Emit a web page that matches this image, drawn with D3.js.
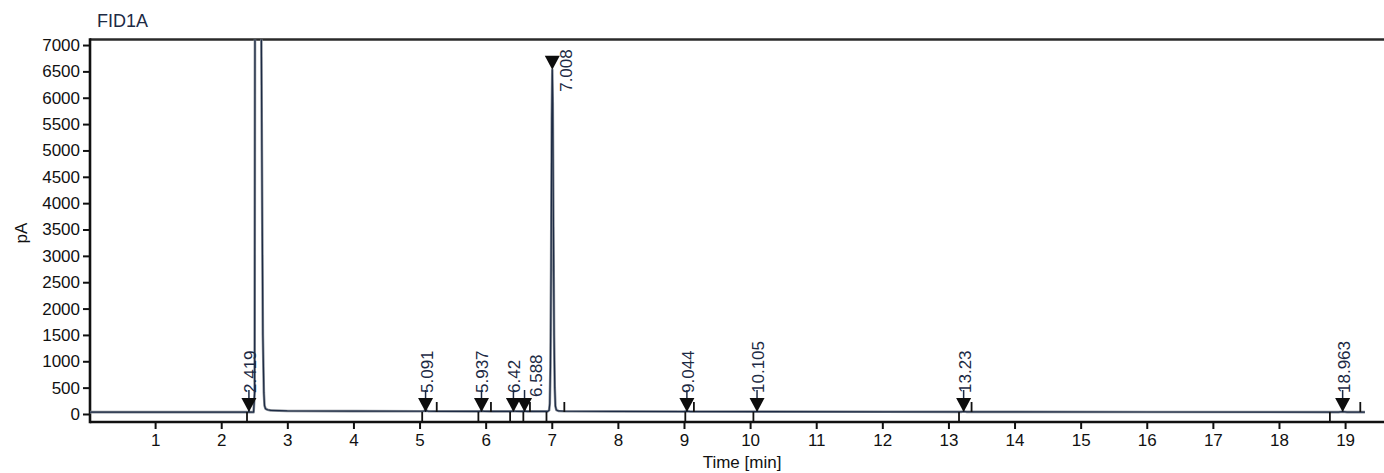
<!DOCTYPE html>
<html>
<head>
<meta charset="utf-8">
<script src="https://cdn.jsdelivr.net/npm/d3@7"></script>
<style>
  html, body { margin: 0; padding: 0; background: #fff; }
  svg { display: block; font-family: "Liberation Sans", Arial, sans-serif; }
</style>
</head>
<body>
<svg id="chart" width="1384" height="473"></svg>
<script>
// ---------------- data ----------------
const chartTitle = "FID1A";
const yLabel = "pA";
const xLabel = "Time [min]";
const xTicks = [1,2,3,4,5,6,7,8,9,10,11,12,13,14,15,16,17,18,19];
const yTicks = [0,500,1000,1500,2000,2500,3000,3500,4000,4500,5000,5500,6000,6500,7000];

// chromatogram signal (time in min, response in pA)
const signalTimes  = [0, 2.40, 2.49, 2.505, 2.512, 2.60, 2.615, 2.63, 2.645, 2.655, 2.67, 2.70, 2.75, 3.0, 4.0, 5.0,
                      5.06, 5.091, 5.13, 5.26, 5.90, 5.937, 5.98, 6.08, 6.38, 6.42, 6.47, 6.55, 6.588, 6.63,
                      6.94, 6.96, 6.97, 6.98, 6.99, 7.00, 7.008, 7.015, 7.025, 7.035, 7.045, 7.055, 7.07, 7.10, 7.19,
                      8.0, 9.0, 9.044, 9.10, 10.08, 10.105, 10.14, 12.0, 13.19, 13.23, 13.28, 16.0, 18.90, 18.963, 19.03, 19.30];
const signalValues = [35, 35, 36, 400, 9000, 9000, 5000, 1500, 400, 160, 100, 80, 68, 58, 54, 52,
                      56, 64, 55, 51, 50, 58, 51, 50, 49, 57, 51, 50, 56, 50,
                      50, 70, 200, 900, 2800, 5600, 6530, 5900, 3600, 1500, 500, 150, 75, 58, 52,
                      48, 46, 53, 46, 44, 50, 44, 42, 40, 47, 40, 38, 36, 43, 36, 35];

// integrated peaks
const peakTimes  = [2.419, 5.091, 5.937, 6.42, 6.588, 7.008, 9.044, 10.105, 13.23, 18.963];
const peakLabels = ["2.419", "5.091", "5.937", "6.42", "6.588", "7.008", "9.044", "10.105", "13.23", "18.963"];
const peakHeights = [35, 64, 58, 57, 56, 6530, 53, 50, 47, 43];

// integration event marks (peak start / peak end)
const startMarks = [2.39, 5.04, 5.89, 6.37, 6.57, 6.92, 9.02, 10.05, 13.16, 18.77];
const endMarks   = [5.26, 6.08, 6.67, 7.19, 9.15, 13.35, 19.23];
const baselineLevel = 38;

// ---------------- layout ----------------
const W = 1384, H = 473;
const plotLeft = 90, plotTop = 39.5, plotBottom = 422;
const x = d3.scaleLinear().domain([0, 19.6]).range([89, 89 + 19.6 * 66.11]);
const y = d3.scaleLinear().domain([-152, 7105]).range([plotBottom, plotTop]);

const svg = d3.select("#chart");
const navy = "#1c2a44";
const font = 17;

svg.append("defs").append("clipPath").attr("id", "plotClip")
  .append("rect").attr("x", plotLeft).attr("y", plotTop)
  .attr("width", W - plotLeft).attr("height", plotBottom - plotTop);

// title
svg.append("text").attr("x", 97).attr("y", 27)
  .attr("font-size", 18).attr("fill", navy).text(chartTitle);

// y axis label
svg.append("text").attr("transform", "translate(27,233) rotate(-90)")
  .attr("text-anchor", "middle").attr("font-size", font).attr("fill", "#111").text(yLabel);

// x axis label
svg.append("text").attr("x", 742).attr("y", 468)
  .attr("text-anchor", "middle").attr("font-size", font).attr("fill", "#111").text(xLabel);

// y axis
const yAxis = svg.append("g").attr("transform", `translate(${plotLeft},0)`)
  .call(d3.axisLeft(y).tickValues(yTicks).tickSize(7).tickPadding(3).tickFormat(d3.format("d")));
yAxis.select(".domain").remove();
yAxis.selectAll(".tick line").attr("stroke", "#111").attr("stroke-width", 2);
yAxis.selectAll(".tick text").attr("font-size", font).attr("fill", "#111")
  .attr("font-family", "'Liberation Sans', Arial, sans-serif");

// x axis
const xAxis = svg.append("g").attr("transform", `translate(0,${plotBottom})`)
  .call(d3.axisBottom(x).tickValues(xTicks).tickSize(7).tickPadding(5).tickFormat(d3.format("d")));
xAxis.select(".domain").remove();
xAxis.selectAll(".tick line").attr("stroke", "#111").attr("stroke-width", 2);
xAxis.selectAll(".tick text").attr("font-size", font).attr("fill", "#111")
  .attr("font-family", "'Liberation Sans', Arial, sans-serif");

// frame lines
svg.append("line").attr("x1", plotLeft).attr("x2", W).attr("y1", plotTop).attr("y2", plotTop)
  .attr("stroke", "#2a2a2a").attr("stroke-width", 2.4);
svg.append("line").attr("x1", plotLeft).attr("x2", W).attr("y1", plotBottom).attr("y2", plotBottom)
  .attr("stroke", "#111").attr("stroke-width", 2.4);
svg.append("line").attr("x1", plotLeft).attr("x2", plotLeft).attr("y1", plotTop - 1.2).attr("y2", plotBottom + 1.2)
  .attr("stroke", "#111").attr("stroke-width", 2.6);

// signal
const signal = signalTimes.map((t, i) => [t, signalValues[i]]);
const line = d3.line().x(d => x(d[0])).y(d => y(d[1]));
svg.append("path").datum(signal).attr("clip-path", "url(#plotClip)")
  .attr("d", line).attr("fill", "none").attr("stroke", "#8a9099").attr("stroke-width", 2.6)
  .attr("stroke-linejoin", "round");
svg.append("path").datum(signal).attr("clip-path", "url(#plotClip)")
  .attr("d", line).attr("fill", "none").attr("stroke", navy).attr("stroke-width", 1.2)
  .attr("stroke-linejoin", "round");

// event marks
const yb = y(baselineLevel);
svg.append("g").selectAll("line").data(startMarks).join("line")
  .attr("x1", d => x(d)).attr("x2", d => x(d)).attr("y1", yb).attr("y2", plotBottom)
  .attr("stroke", "#111").attr("stroke-width", 1.8);
svg.append("g").selectAll("line").data(endMarks).join("line")
  .attr("x1", d => x(d)).attr("x2", d => x(d)).attr("y1", yb - 10).attr("y2", yb)
  .attr("stroke", "#111").attr("stroke-width", 1.8);

// peak markers and labels
const tri = 7.5, triH = 14;
const peaks = peakTimes.map((t, i) => ({ t, label: peakLabels[i], h: peakHeights[i] }));
const pg = svg.append("g");
peaks.forEach((p, i) => {
  const px = x(p.t);
  const tall = p.h > 1000;
  const tipY = tall ? y(p.h) : yb;
  // leader line
  if (!tall) {
    pg.append("line").attr("x1", px).attr("x2", px).attr("y1", tipY).attr("y2", tipY - triH - 8)
      .attr("stroke", navy).attr("stroke-width", 1.5);
  }
  pg.append("path")
    .attr("d", `M${px - tri},${tipY - triH} L${px + tri},${tipY - triH} L${px},${tipY} Z`)
    .attr("fill", "#0d0d0d");
  let lx, ly;
  if (tall) {
    lx = px + 20; ly = tipY + 22;
  } else {
    const prev = i > 0 ? x(peaks[i - 1].t) : -100;
    const shift = (px - prev) < 14 ? 10 : 0;
    lx = px + 7 + shift; ly = tipY - triH - 5 + (shift ? 4 : 0);
  }
  pg.append("text").attr("transform", `translate(${lx},${ly}) rotate(-90)`)
    .attr("text-anchor", "start").attr("font-size", font).attr("fill", navy).text(p.label);
});
</script>
</body>
</html>
